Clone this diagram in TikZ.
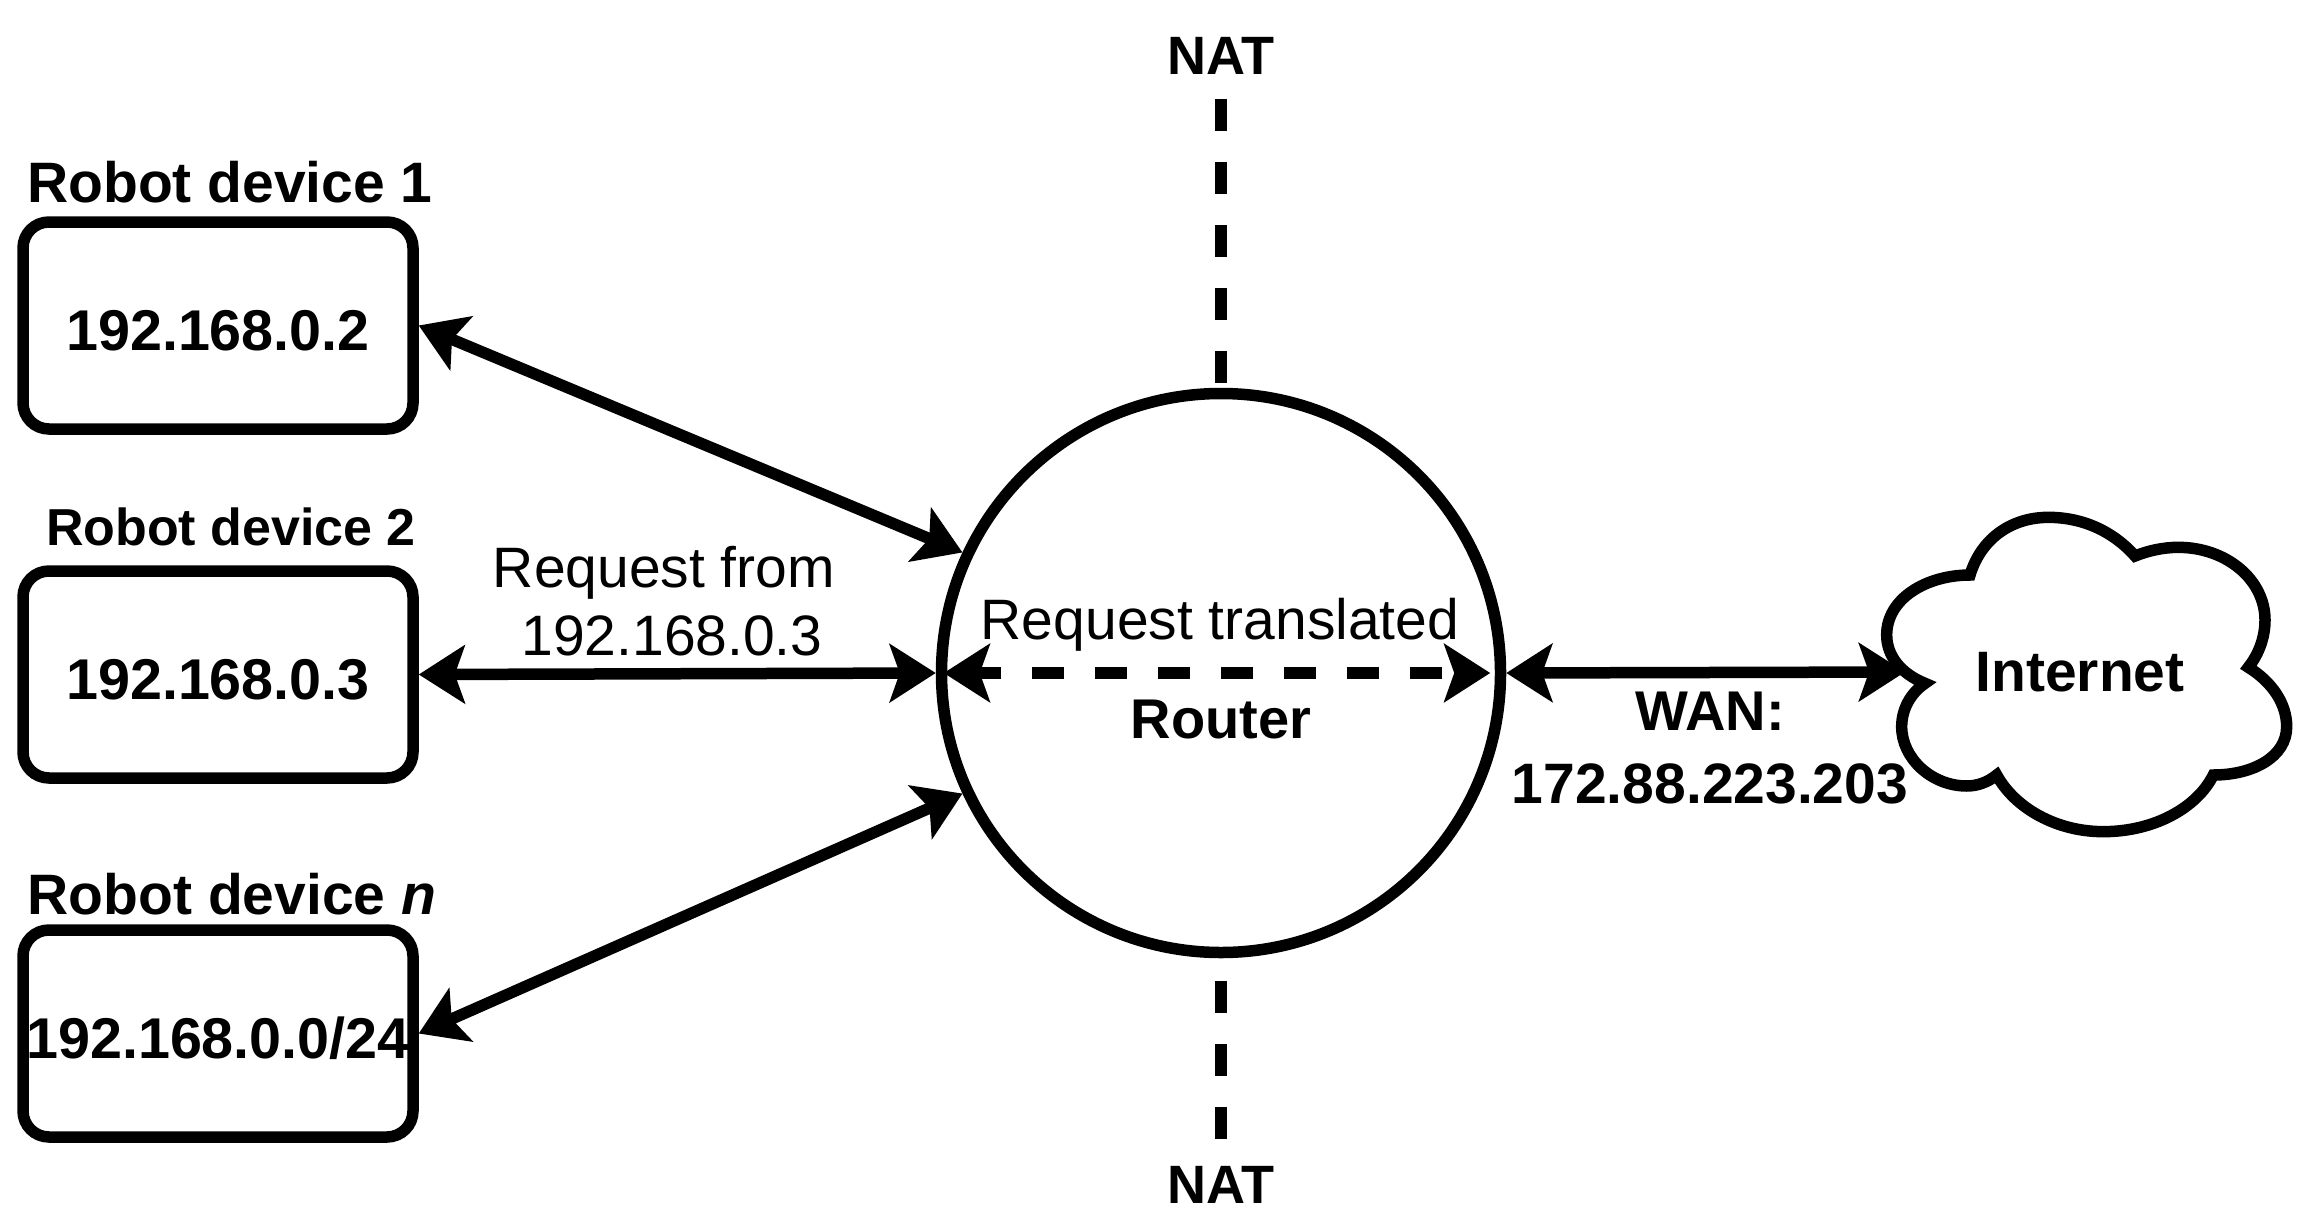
\documentclass[tikz,border=0pt]{standalone}
\usepackage{fontspec}
\setmainfont{Liberation Sans}
\usetikzlibrary{arrows.meta}
\tikzset{
  stroke/.style={line width=11.5pt,line join=miter,miter limit=10},
  lab/.style={anchor=base,inner sep=0pt,outer sep=0pt,font=\fontsize{57}{66}\selectfont},
  blab/.style={lab,font=\fontsize{#1}{66}\selectfont\bfseries},
  blab/.default=57,
  devbox/.style={stroke,draw=black,rounded corners=26pt,minimum width=390pt,minimum height=207pt,
    inner sep=0pt,align=center,text height=50pt,text depth=0pt,font=\fontsize{57.5}{66}\selectfont\bfseries},
  routercirc/.style={stroke,draw=black,circle,minimum size=559pt,inner sep=0pt},
  tipped/.style={line width=11.5pt,{Stealth[length=46pt,width=58pt,inset=10pt]}-{Stealth[length=46pt,width=58pt,inset=10pt]}},
  dashline/.style={line width=12pt,dash pattern=on 32pt off 31pt}
}
\begin{document}
\begin{tikzpicture}[x=1pt,y=-1pt]
\useasboundingbox (0,0) rectangle (2309,1226);
\fill[white] (0,0) rectangle (2309,1226);

% nodes
\node[devbox] (d1) at (218,325.5) {192.168.0.2};
\node[devbox] (d2) at (218,674.5) {192.168.0.3};
\node[devbox] (d3) at (218,1033.5) {192.168.0.0/24};
\node[routercirc] (router) at (1221,673) {};

% labels
\node[blab] (t1) at (230,202) {Robot device 1};
\node[blab=52] (t2) at (231,545) {Robot device 2};
\node[blab] (t3) at (232,914) {Robot device \textit{n}};
\node[lab] (req1) at (664,587) {Request from};
\node[lab] (req2) at (672,655) {192.168.0.3};
\node[lab] (reqt) at (1220,639) {Request translated};
\node[blab=56] (rlab) at (1221,738) {Router};
\node[blab=54] (nat1) at (1221,74) {NAT};
\node[blab=54] (nat2) at (1221,1203) {NAT};
\node[blab=56] (wan1) at (1710,730) {WAN:};
\node[blab] (wan2) at (1710,803) {172.88.223.203};

% cloud
\begin{scope}[shift={(1850,480)},x=0.33333pt,y=-0.33333pt]
\draw[stroke,fill=white] (225,610)
  .. controls (150,580) and (110,525) .. (110,465)
  .. controls (110,355) and (230,285) .. (360,285)
  .. controls (395,170) and (490,112) .. (595,112)
  .. controls (700,112) and (790,155) .. (855,228)
  .. controls (895,212) and (940,202) .. (985,202)
  .. controls (1130,202) and (1245,300) .. (1245,420)
  .. controls (1245,470) and (1228,520) .. (1195,562)
  .. controls (1265,605) and (1310,670) .. (1310,740)
  .. controls (1310,830) and (1210,885) .. (1090,885)
  .. controls (1040,985) and (910,1055) .. (760,1055)
  .. controls (620,1055) and (495,985) .. (440,885)
  .. controls (412,908) and (380,918) .. (350,918)
  .. controls (245,918) and (155,835) .. (155,740)
  .. controls (155,690) and (180,640) .. (225,610) -- cycle;
\end{scope}
\node[blab] (internet) at (2080,691) {Internet};
\coordinate (cloudw) at (1905,672);
\coordinate (nattop) at (1221,99);
\coordinate (natbot) at (1221,1139);

% connectors
\draw[tipped] (d1.east) -- (router.155);
\draw[tipped] (d2.east) -- (router.west);
\draw[tipped] (d3.east) -- (router.205);
\draw[tipped] (router.east) -- (cloudw);
\draw[line width=12pt,dash pattern=on 32pt off 31pt,dash phase=8pt,shorten <=8pt,shorten >=16pt,
  {Stealth[length=46pt,width=58pt,inset=10pt]}-{Stealth[length=46pt,width=58pt,inset=10pt]}]
  (router.west) -- (router.east);
\draw[dashline] (nattop) -- (router.north);
\draw[dashline] (natbot) -- (router.south);
\end{tikzpicture}
\end{document}
